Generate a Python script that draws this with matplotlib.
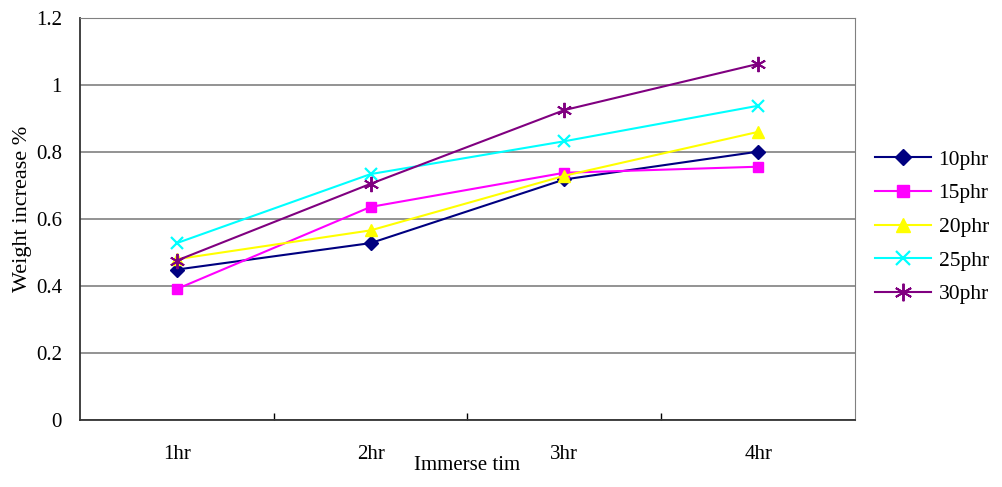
import matplotlib
matplotlib.use("Agg")
import matplotlib.pyplot as plt

# Data
categories = ["1hr", "2hr", "3hr", "4hr"]
series_names = ["10phr", "15phr", "20phr", "25phr", "30phr"]
phr10 = [0.449, 0.528, 0.718, 0.801]
phr15 = [0.391, 0.636, 0.738, 0.756]
phr20 = [0.480, 0.566, 0.729, 0.860]
phr25 = [0.528, 0.734, 0.832, 0.938]
phr30 = [0.476, 0.705, 0.925, 1.063]
y_ticks = [0, 0.2, 0.4, 0.6, 0.8, 1, 1.2]
y_tick_labels = ["0", "0.2", "0.4", "0.6", "0.8", "1", "1.2"]

plt.rcParams['font.family'] = ['Liberation Serif', 'DejaVu Serif']

fig = plt.figure(figsize=(10.02, 4.87), dpi=100)
ax = fig.add_axes([0.0798, 0.1376, 0.7735, 0.8255])

styles = [
    dict(color="#000080", marker="D", ms=7),
    dict(color="#FF00FF", marker="s", ms=7),
    dict(color="#FFFF00", marker="^", ms=9),
    dict(color="#00FFFF", marker="x", ms=9, mew=1.6),
    dict(color="#800080", marker=(6, 2, 0), ms=11, mew=1.4),
]
x = list(range(len(categories)))
for name, vals, st in zip(series_names, [phr10, phr15, phr20, phr25, phr30], styles):
    ax.plot(x, vals, lw=1.5, label=name, **st)

ax.set_xlim(-0.5, len(categories) - 0.5)
ax.set_ylim(0, 1.2)
ax.set_yticks(y_ticks)
ax.set_yticklabels(y_tick_labels)
ax.set_xticks(x)
ax.set_xticklabels(categories)
ax.set_xticks([i + 0.5 for i in x[:-1]], minor=True)

ax.tick_params(axis="y", length=0, pad=13, labelsize=15)
ax.tick_params(axis="x", which="major", length=0, pad=18, labelsize=15)
ax.tick_params(axis="x", which="minor", direction="in", length=5, width=1)

ax.grid(axis="y", color="#808080", lw=1.2)
ax.set_axisbelow(True)
for side in ["top", "right"]:
    ax.spines[side].set_color("#808080")
for side in ["left", "bottom"]:
    ax.spines[side].set_color("#333333")
    ax.spines[side].set_linewidth(1.3)

ax.set_xlabel("Immerse tim", fontsize=15, labelpad=-6)
ax.set_ylabel("Weight increase %", fontsize=16)
ax.yaxis.set_label_coords(-0.062, 0.525)

ax.legend(loc="center left", bbox_to_anchor=(1.026, 0.48), frameon=False,
          borderpad=0, borderaxespad=0, fontsize=15.5, markerscale=1.15,
          handlelength=2.6, labelspacing=0.63, handletextpad=0.35)

fig.savefig("out.png", dpi=100)
